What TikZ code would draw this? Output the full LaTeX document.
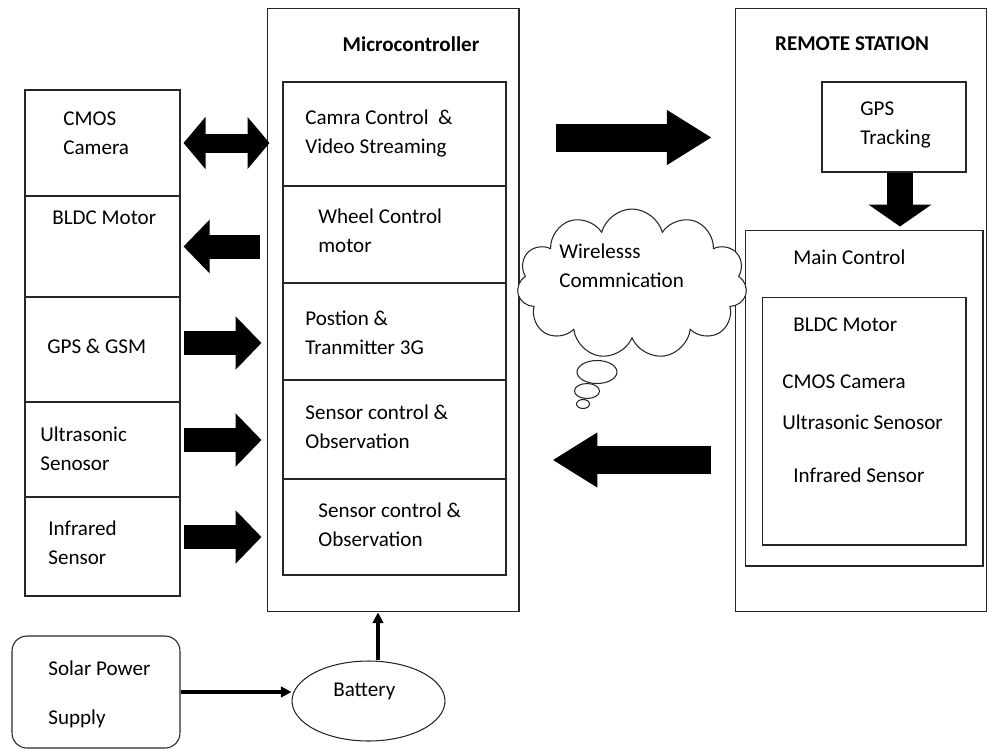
\documentclass[tikz,border=0pt]{standalone}
\usepackage{fontspec}
\setmainfont{Carlito}
\usetikzlibrary{shapes.geometric, shapes.symbols, arrows.meta}

\tikzset{
  box/.style={rectangle, draw=black!85, line width=0.6pt, inner sep=0pt},
  lbl/.style={anchor=west, inner sep=0pt, align=left, font=\fontsize{12}{16.5}\selectfont},
  head/.style={inner sep=0pt, font=\fontsize{12}{14}\selectfont\bfseries},
  smallarrow/.style={line width=0.48cm, -{Triangle[length=0.52cm, width=1.04cm]}},
  camarrow/.style={line width=0.38cm, {Triangle[length=0.44cm, width=1.02cm]}-{Triangle[length=0.44cm, width=1.02cm]}},
  bigarrow/.style={line width=0.56cm, -{Triangle[length=0.9cm, width=1.04cm]}},
  downarrow/.style={line width=0.52cm, -{Triangle[length=0.44cm, width=1.24cm]}},
  feed/.style={line width=1.8pt, -{Triangle[length=6pt, width=6pt]}}
}

\begin{document}
\begin{tikzpicture}[x=0.02cm, y=-0.02cm]
\useasboundingbox (0,0) rectangle (987,751);

\node[box, minimum width=3.1cm, minimum height=2.12cm] (cmos) at (102.5,143) {};
\node[box, minimum width=3.1cm, minimum height=2.02cm] (bldc) at (102.5,246.5) {};
\node[box, minimum width=3.1cm, minimum height=2.1cm] (gpsgsm) at (102.5,349.5) {};
\node[box, minimum width=3.1cm, minimum height=1.9cm] (ultra) at (102.5,449.5) {};
\node[box, minimum width=3.1cm, minimum height=1.98cm] (infra) at (102.5,546.5) {};

\node[lbl] (cmostxt) at (63,133.5) {CMOS\\Camera};
\node[lbl] (bldctxt) at (52,218) {BLDC Motor};
\node[lbl] (gpsgsmtxt) at (47,346) {GPS \& GSM};
\node[lbl] (ultratxt) at (40,448.5) {Ultrasonic\\Senosor};
\node[lbl] (infratxt) at (48,542.5) {Infrared\\Sensor};

\node[box, minimum width=5.04cm, minimum height=12.08cm] (micro) at (393,310) {};
\node[head] (microtxt) at (411,44) {Microcontroller};
\node[box, minimum width=4.46cm, minimum height=2.08cm] (camstream) at (394.5,134) {};
\node[box, minimum width=4.46cm, minimum height=1.94cm] (wheel) at (394.5,234.5) {};
\node[box, minimum width=4.46cm, minimum height=1.94cm] (postion) at (394.5,331.5) {};
\node[box, minimum width=4.46cm, minimum height=1.98cm] (sensea) at (394.5,429.5) {};
\node[box, minimum width=4.46cm, minimum height=1.92cm] (senseb) at (394.5,527) {};

\node[lbl] (camstreamtxt) at (305,133) {Camra Control \ \&\\Video Streaming};
\node[lbl] (wheeltxt) at (318,230.5) {Wheel Control\\motor};
\node[lbl] (postiontxt) at (305,332.5) {Postion \&\\Tranmitter 3G};
\node[lbl] (senseatxt) at (305,426.5) {Sensor control \&\\Observation};
\node[lbl] (sensebtxt) at (318,525) {Sensor control \&\\Observation};

\node[box, minimum width=5.03cm, minimum height=12.08cm] (remote) at (861,310) {};
\node[head] (remotetxt) at (852,44) {REMOTE STATION};
\node[box, minimum width=2.88cm, minimum height=1.8cm] (gpstrack) at (894,127) {};
\node[lbl] (gpstracktxt) at (860,125) {GPS\\Tracking};
\node[box, minimum width=4.76cm, minimum height=6.72cm] (mainctrl) at (864,398) {};
\node[lbl] (mainctrltxt) at (793,257) {Main Control};
\node[box, minimum width=4.08cm, minimum height=4.96cm] (inner) at (864,421) {};
\node[lbl] (rbldc) at (793,325) {BLDC Motor};
\node[lbl] (rcmos) at (782,382) {CMOS Camera};
\node[lbl] (rultra) at (782,422) {Ultrasonic Senosor};
\node[lbl] (rinfra) at (793,475) {Infrared Sensor};

\node[cloud, draw=black!85, line width=0.6pt, fill=white, cloud puffs=11, aspect=1.6, minimum width=4.6cm, minimum height=3cm] (cloud) at (632,284) {};
\node[lbl] (cloudtxt) at (559,266) {Wirelesss\\Commnication};
\node[ellipse, draw=black!85, line width=0.6pt, minimum width=0.8cm, minimum height=0.46cm, inner sep=0pt] (bubblea) at (597,372) {};
\node[ellipse, draw=black!85, line width=0.6pt, minimum width=0.5cm, minimum height=0.3cm, inner sep=0pt] (bubbleb) at (587,391) {};
\node[ellipse, draw=black!85, line width=0.6pt, minimum width=0.26cm, minimum height=0.18cm, inner sep=0pt] (bubblec) at (583,404) {};

\node[box, rounded corners=0.3cm, minimum width=3.36cm, minimum height=2.24cm] (solar) at (96,692) {};
\node[lbl, font=\fontsize{12}{27.8}\selectfont] (solartxt) at (48,694.5) {Solar Power\\Supply};
\node[ellipse, draw=black!85, line width=0.6pt, minimum width=3.06cm, minimum height=1.6cm, inner sep=0pt] (battery) at (368.5,701) {};
\node[lbl] (batterytxt) at (333,691) {Battery};

\draw[camarrow] ([xshift=0.06cm]cmos.east) -- ([xshift=0.06cm]cmos.east -| micro.west);
\draw[smallarrow, shorten <=0.14cm, shorten >=0.06cm] (bldc.east -| micro.west) -- (bldc.east);
\draw[smallarrow, shorten <=0.06cm, shorten >=0.1cm] ([yshift=0.13cm]gpsgsm.east) -- ([yshift=0.13cm]gpsgsm.east -| micro.west);
\draw[smallarrow, shorten <=0.06cm, shorten >=0.1cm] ([yshift=0.19cm]ultra.east) -- ([yshift=0.19cm]ultra.east -| micro.west);
\draw[smallarrow, shorten <=0.06cm, shorten >=0.1cm] ([yshift=0.19cm]infra.east) -- ([yshift=0.19cm]infra.east -| micro.west);

\draw[bigarrow, shorten <=0.98cm, shorten >=0.46cm] ([yshift=-0.07cm]camstream.east) -- ([yshift=-0.07cm]camstream.east -| remote.west);
\draw[bigarrow, shorten <=0.48cm, shorten >=0.92cm] ([yshift=-0.61cm]sensea.east -| remote.west) -- ([yshift=-0.61cm]sensea.east);
\draw[downarrow, shorten >=0.06cm] ([xshift=0.12cm]gpstrack.south) -- ([xshift=0.12cm]gpstrack.south |- mainctrl.north);

\draw[feed] (solar.east) -- (solar.east -| battery.west);
\draw[feed] ([xshift=0.19cm]battery.north) -- ([xshift=0.19cm]battery.north |- micro.south);
\end{tikzpicture}
\end{document}
